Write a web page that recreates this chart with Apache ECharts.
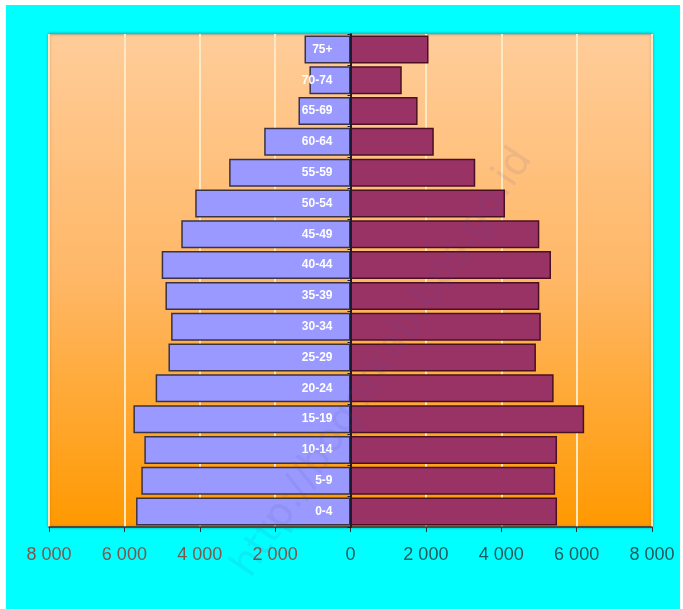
<!DOCTYPE html>
<html>
<head>
<meta charset="utf-8">
<title>Piramida Penduduk</title>
<style>
    html, body { margin: 0; padding: 0; background: #ffffff; }
    #main { position: absolute; left: 6px; top: 5px; width: 674px; height: 604px; }
</style>
</head>
<body>
<div id="main"></div>
<script src="https://cdn.jsdelivr.net/npm/echarts@6/dist/echarts.min.js"></script>
<script>
    // kelompok umur, dari bawah ke atas
    var ageGroups = ['0-4', '5-9', '10-14', '15-19', '20-24', '25-29', '30-34', '35-39',
                     '40-44', '45-49', '50-54', '55-59', '60-64', '65-69', '70-74', '75+'];
    // laki-laki (kiri) dan perempuan (kanan)
    var maleValues = [5690, 5550, 5470, 5760, 5170, 4830, 4760, 4910,
                      5010, 4490, 4120, 3220, 2290, 1380, 1090, 1220];
    var femaleValues = [5480, 5430, 5480, 6200, 5390, 4920, 5050, 5010,
                        5320, 5010, 4100, 3310, 2210, 1780, 1360, 2070];
    var tickValues = [-8000, -6000, -4000, -2000, 0, 2000, 4000, 6000, 8000];

    // font sempit kalau ada, kalau tidak pakai Liberation Sans yang lebih kecil
    function hasFont(name) {
        var ctx = document.createElement('canvas').getContext('2d');
        ctx.font = '20px monospace';
        var w1 = ctx.measureText('8 000 55-59').width;
        ctx.font = '20px "' + name + '", monospace';
        return ctx.measureText('8 000 55-59').width !== w1;
    }
    var narrow = hasFont('Liberation Sans Narrow');
    var axisFont = narrow ? '"Liberation Sans Narrow", sans-serif' : '"Liberation Sans", sans-serif';
    var axisSize = narrow ? 21 : 18;
    var catSize = narrow ? 14 : 12;

    var myChart = echarts.init(document.getElementById('main'));

    function fmt(v) {
        var s = String(Math.abs(v));
        return s.length > 3 ? s.slice(0, s.length - 3) + ' ' + s.slice(-3) : s;
    }

    var option = {
        backgroundColor: '#00ffff',
        animation: false,
        grid: {
            left: 43, top: 29, width: 603, height: 493,
            outerBoundsMode: 'none',
            containLabel: false,
            show: true,
            borderWidth: 1,
            borderColor: '#7fa0a0',
            shadowColor: 'rgba(0,0,0,0.35)',
            shadowBlur: 3,
            backgroundColor: new echarts.graphic.LinearGradient(0, 0, 0, 1, [
                { offset: 0, color: '#ffcc99' },
                { offset: 0.5, color: '#ffb766' },
                { offset: 1, color: '#ff9900' }
            ])
        },
        xAxis: {
            type: 'value',
            min: tickValues[0],
            max: tickValues[tickValues.length - 1],
            interval: 2000,
            axisLine: { show: true, lineStyle: { color: '#333333', width: 1.5 } },
            axisTick: { show: true, length: 5, lineStyle: { color: '#333333' } },
            splitLine: { show: true, lineStyle: { color: '#ffe8c4', width: 2 } },
            axisLabel: {
                margin: 19,
                fontFamily: axisFont,
                fontSize: axisSize,
                formatter: function (v) {
                    return v < 0 ? '{neg|' + fmt(v) + '}' : '{pos|' + fmt(v) + '}';
                },
                rich: {
                    neg: { color: '#84534a', fontSize: axisSize, fontFamily: axisFont },
                    pos: { color: '#235a5c', fontSize: axisSize, fontFamily: axisFont }
                }
            }
        },
        yAxis: {
            type: 'category',
            data: ageGroups,
            axisLine: { show: true, onZero: true, lineStyle: { color: '#1c1c30', width: 2 } },
            axisTick: { show: true, length: 3, lineStyle: { color: '#1c1c30' } },
            splitLine: { show: false },
            axisLabel: { show: false },
            z: 5
        },
        series: [
            {
                name: 'Laki-laki',
                type: 'bar',
                stack: 'pop',
                barCategoryGap: '9%',
                data: maleValues.map(function (v) { return -v; }),
                itemStyle: { color: '#9999ff', borderColor: '#3a3346', borderWidth: 1.5 },
                label: {
                    show: true,
                    position: 'insideRight',
                    distance: 18,
                    formatter: '{b}',
                    color: '#ffffff',
                    fontWeight: 'bold',
                    fontSize: catSize,
                    fontFamily: axisFont
                }
            },
            {
                name: 'Perempuan',
                type: 'bar',
                stack: 'pop',
                barCategoryGap: '9%',
                data: femaleValues,
                itemStyle: { color: '#993366', borderColor: '#4a1022', borderWidth: 1.5 }
            }
        ],
        graphic: [
            {
                type: 'text',
                x: 377, y: 358,
                rotation: 0.98,
                z: 100,
                silent: true,
                style: {
                    text: 'http://bogorkab.bps.go.id',
                    font: '40px "DejaVu Sans", sans-serif',
                    fill: 'rgba(80, 80, 170, 0.10)',
                    align: 'center',
                    verticalAlign: 'middle'
                }
            }
        ]
    };

    myChart.setOption(option);
</script>
</body>
</html>
